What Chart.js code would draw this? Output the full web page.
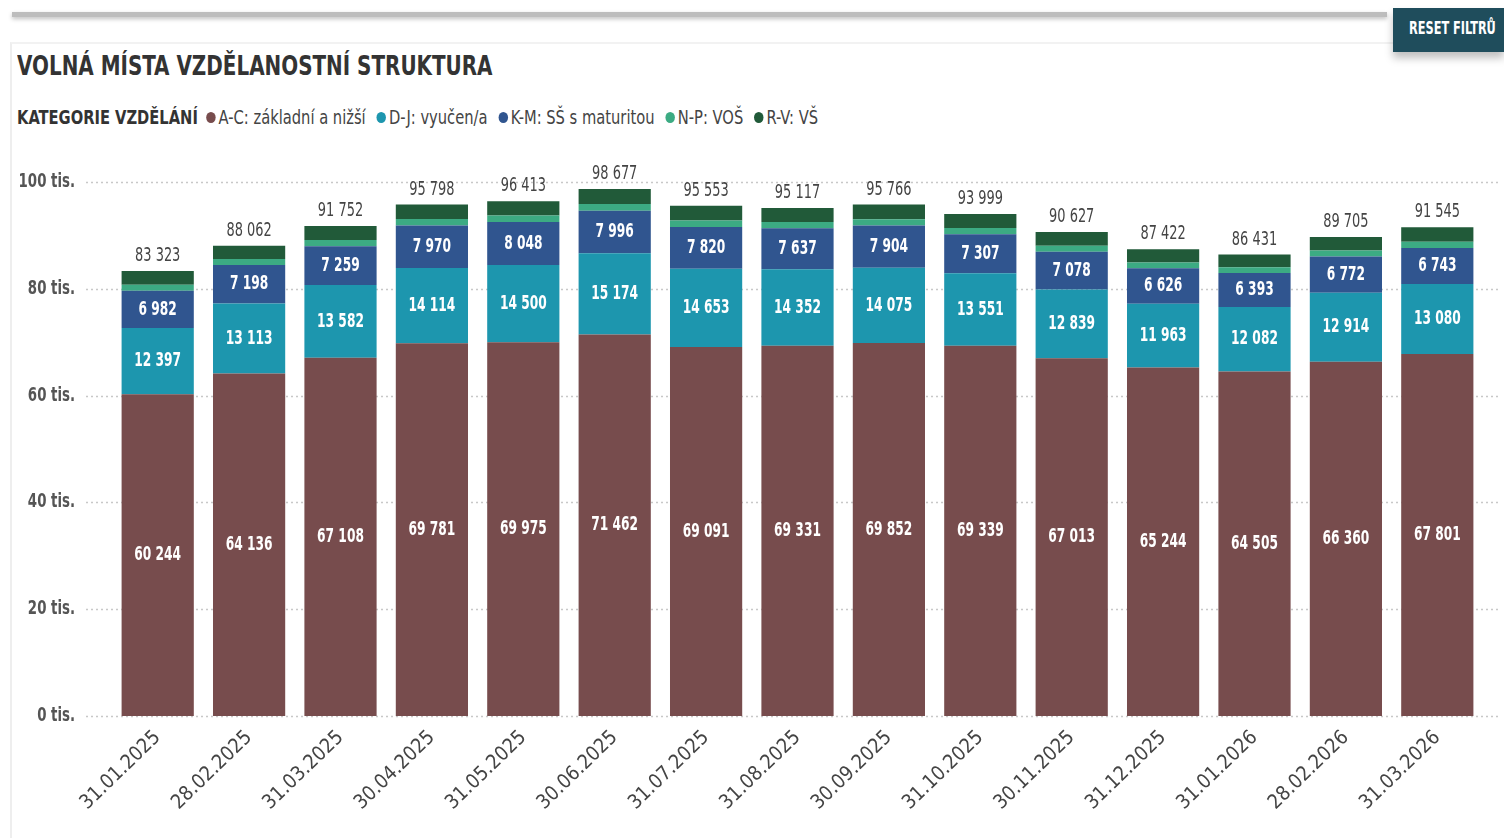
<!DOCTYPE html>
<html lang="cs">
<head>
<meta charset="utf-8">
<script src="https://cdn.jsdelivr.net/npm/chart.js@4.4.1/dist/chart.umd.min.js"></script>
<style>
body{margin:0;width:1504px;height:838px;background:#fff;overflow:hidden;position:relative;font-family:"DejaVu Sans Condensed","DejaVu Sans",sans-serif;}
.topbar{position:absolute;left:12px;top:12px;width:1375px;height:5px;background:#bdbdbd;box-shadow:0 2px 4px rgba(0,0,0,.25);}
.card{position:absolute;left:10px;top:42px;width:1500px;height:800px;border-left:2px solid #eee;border-top:2px solid #f2f2f2;}
.reset{position:absolute;left:1393px;top:8px;width:111px;height:44px;background:#1f4d5c;box-shadow:0 6px 8px rgba(0,0,0,.25);}
.reset span{position:absolute;left:16px;top:0;line-height:40px;color:#fff;font-weight:bold;font-size:18px;white-space:nowrap;transform:scaleX(0.7);transform-origin:left center;}
.title{position:absolute;left:17px;top:50px;font-size:27px;font-weight:bold;color:#333;white-space:nowrap;transform:scaleX(0.82);transform-origin:left top;}
.legend{position:absolute;left:17px;top:106px;font-size:19px;color:#444;white-space:nowrap;transform:scaleX(0.86);transform-origin:left top;}
.legend b{font-weight:bold;color:#333;margin-right:10px;}
.legend span{margin-right:13px;}
.legend i{display:inline-block;width:11px;height:11px;border-radius:50%;margin-right:3px;vertical-align:1px;}
#wrap{position:absolute;left:10px;top:140px;width:1494px;height:698px;}
</style>
</head>
<body>
<div class="topbar"></div>
<div class="card"></div>
<div class="reset"><span>RESET FILTRŮ</span></div>
<div class="title">VOLNÁ MÍSTA VZDĚLANOSTNÍ STRUKTURA</div>
<div class="legend" id="legend"></div>
<div id="wrap"><canvas id="chart"></canvas></div>
<script>
const dates = ["31.01.2025","28.02.2025","31.03.2025","30.04.2025","31.05.2025","30.06.2025","31.07.2025","31.08.2025","30.09.2025","31.10.2025","30.11.2025","31.12.2025","31.01.2026","28.02.2026","31.03.2026"];

const seriesNames = ["A-C: základní a nižší","D-J: vyučen/a","K-M: SŠ s maturitou","N-P: VOŠ","R-V: VŠ"];
const seriesColors = ["#774c4d","#1d96ae","#30558f","#3cab83","#215a39"];

const zakladni = [60244,64136,67108,69781,69975,71462,69091,69331,69852,69339,67013,65244,64505,66360,67801];
const vyuceni = [12397,13113,13582,14114,14500,15174,14653,14352,14075,13551,12839,11963,12082,12914,13080];
const maturita = [6982,7198,7259,7970,8048,7996,7820,7637,7904,7307,7078,6626,6393,6772,6743];
const vos = [1150,1120,1180,1220,1200,1230,1220,1170,1210,1170,1140,1110,1070,1130,1210];
const vs = [2550,2495,2623,2713,2690,2815,2769,2627,2725,2632,2557,2479,2381,2529,2711];

const yTicks = [0,20000,40000,60000,80000,100000];

const allSeries = [zakladni,vyuceni,maturita,vos,vs];

const fmt = v => String(v).replace(/\B(?=(\d{3})+(?!\d))/g," ");
const FONT = '"DejaVu Sans Condensed","DejaVu Sans",sans-serif';

// legend in html
const legendEl = document.getElementById("legend");
legendEl.innerHTML = "<b>KATEGORIE VZDĚLÁNÍ</b>" + seriesNames.map((n,i)=>
`<span><i style="background:${seriesColors[i]}"></i>${n}</span>`).join("");

// narrow text helper
function narrowText(ctx, txt, x, y, sx){
ctx.save();
ctx.translate(x,y);
ctx.scale(sx,1);
ctx.fillText(txt,0,0);
ctx.restore();
}

const gridPlugin = {
id:"dotGrid",
beforeDatasetsDraw(chart){
const ctx = chart.ctx;
const y = chart.scales.y;
ctx.save();
ctx.strokeStyle = "#c8c8c8";
ctx.lineWidth = 1.5;
ctx.setLineDash([2,3]);
yTicks.forEach(t=>{
const py = Math.round(y.getPixelForValue(t))+0.5;
ctx.beginPath();
ctx.moveTo(76,py);
ctx.lineTo(1490,py);
ctx.stroke();
});
// y tick labels
ctx.fillStyle = "#555";
ctx.font = "bold 19px " + FONT;
ctx.textAlign = "right";
ctx.textBaseline = "middle";
yTicks.forEach(t=>{
narrowText(ctx, (t/1000)+" tis.", 65, y.getPixelForValue(t), 0.78);
});
ctx.restore();
}
};

const labelPlugin = {
id:"barLabels",
afterDatasetsDraw(chart){
const ctx = chart.ctx;
ctx.save();
ctx.textAlign = "center";
ctx.textBaseline = "middle";
ctx.font = "bold 20px " + FONT;
ctx.fillStyle = "#fff";
[0,1,2].forEach(di=>{
chart.getDatasetMeta(di).data.forEach((bar,i)=>{
narrowText(ctx, fmt(allSeries[di][i]), bar.x, (bar.y+bar.base)/2, 0.68);
});
});
const top = chart.getDatasetMeta(4).data;
ctx.fillStyle = "#444";
ctx.font = "20px " + FONT;
ctx.textBaseline = "bottom";
top.forEach((bar,i)=>{
const total = allSeries.reduce((s,arr)=>s+arr[i],0);
narrowText(ctx, fmt(total), bar.x, bar.y-5, 0.72);
});
ctx.restore();
}
};

new Chart(document.getElementById("chart"),{
type:"bar",
data:{
labels:dates,
datasets:allSeries.map((d,i)=>({
label:seriesNames[i],
data:d,
backgroundColor:seriesColors[i],
borderWidth:0,
categoryPercentage:0.79,
barPercentage:1
}))
},
options:{
responsive:true,
maintainAspectRatio:false,
animation:false,
layout:{padding:{top:42,right:21,bottom:0,left:0}},
plugins:{legend:{display:false},tooltip:{enabled:false}},
scales:{
x:{
stacked:true,
grid:{display:false},
border:{display:false},
ticks:{
minRotation:44,maxRotation:44,
color:"#444",
font:{family:FONT,size:20},
padding:2
},
afterFit(s){ s.height = 122; }
},
y:{
stacked:true,
min:0,max:100000,
afterBuildTicks(s){ s.ticks = yTicks.map(v=>({value:v})); },
grid:{display:false},
border:{display:false},
ticks:{display:false},
afterFit(s){ s.width = 102; }
}
}
},
plugins:[gridPlugin,labelPlugin]
});
</script>
</body>
</html>
